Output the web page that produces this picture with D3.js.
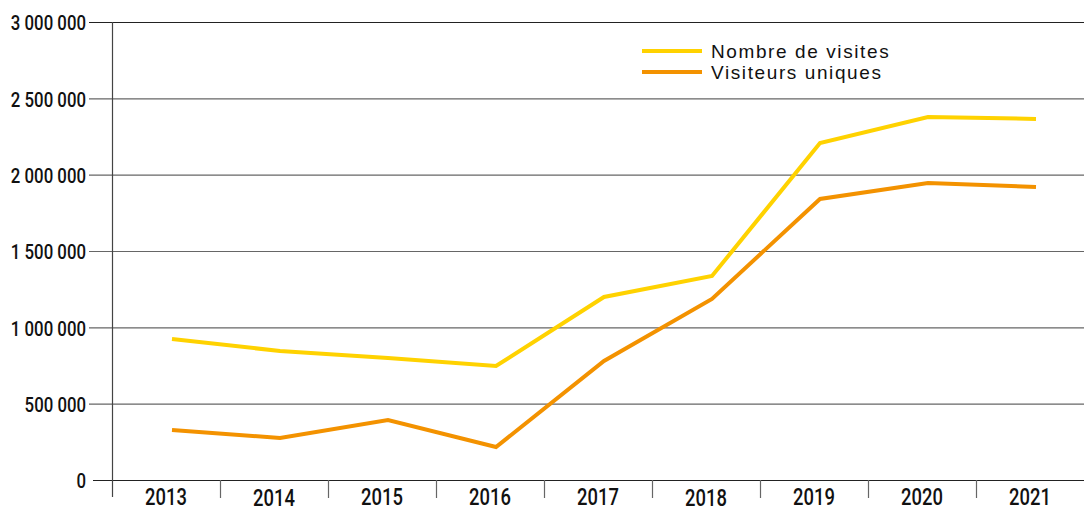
<!DOCTYPE html>
<html><head><meta charset="utf-8">
<script src="https://cdn.jsdelivr.net/npm/d3@7"></script>
<style>
body{margin:0;background:#fff;}
svg{display:block;}
.cond{font-family:Roboto,"DejaVu Sans Condensed",sans-serif;}
</style></head>
<body>
<svg id="chart" width="1084" height="511"></svg>
<script>
const years = ["2013","2014","2015","2016","2017","2018","2019","2020","2021"];
const visites = [923000, 845000, 799000, 747000, 1199000, 1336000, 2207000, 2378000, 2365000];
const uniques = [328000, 275000, 393000, 216000, 780000, 1186000, 1841000, 1945000, 1919000];
const yTicks = [0, 500000, 1000000, 1500000, 2000000, 2500000, 3000000];
const seriesNames = ["Nombre de visites", "Visiteurs uniques"];
const colors = ["#FFD200", "#F39200"];

const svg = d3.select("#chart");
const mLeft = 112, mRight = 1084, mTop = 22, mBottom = 480;

const y = d3.scaleLinear().domain([0, 3000000]).range([mBottom, mTop]);
const xb = d3.scaleBand().domain(years).range([mLeft, mRight]);
const xp = d3.scalePoint().domain(years).range([mLeft + xb.bandwidth()/2 + 6, mRight - xb.bandwidth()/2 + 6]);

const fmt = v => d3.format(",")(v).replace(/,/g, " ");
const SX = 0.8;

const g = svg.append("g");
yTicks.forEach(t => {
  g.append("line").attr("x1", t === 0 ? 93 : 89).attr("x2", mRight)
    .attr("y1", y(t) + 0.5).attr("y2", y(t) + 0.5)
    .attr("stroke", t === 0 || t === 3000000 ? "#222" : "#666").attr("stroke-width", 1.2);
  g.append("text").attr("class", "cond")
    .attr("transform", `translate(86,${y(t) + 1}) scale(${SX},1)`)
    .attr("dy", "0.35em").attr("text-anchor", "end")
    .attr("font-size", 21).attr("font-weight", 500).attr("fill", "#111").text(fmt(t));
});
g.append("line").attr("x1", mLeft + 0.5).attr("x2", mLeft + 0.5)
  .attr("y1", mTop).attr("y2", 497).attr("stroke", "#444").attr("stroke-width", 1.2);

years.forEach((yr, i) => {
  if (i > 0) {
    g.append("line").attr("x1", xb(yr) + 0.5).attr("x2", xb(yr) + 0.5)
      .attr("y1", mBottom).attr("y2", 498).attr("stroke", "#666").attr("stroke-width", 1.2);
  }
  const ty = (yr === "2014" || yr === "2018") ? 506 : 505;
  g.append("text").attr("class", "cond")
    .attr("transform", `translate(${xb(yr) + xb.bandwidth()/2},${ty}) scale(${SX},1)`)
    .attr("text-anchor", "middle").attr("font-size", 23).attr("font-weight", 500).attr("fill", "#111").text(yr);
});

const line = d3.line().x((d, i) => xp(years[i])).y(d => y(d));
[visites, uniques].forEach((s, k) => {
  svg.append("path").datum(s).attr("d", line).attr("fill", "none")
    .attr("stroke", colors[k]).attr("stroke-width", 4).attr("stroke-linejoin", "miter");
});

seriesNames.forEach((n, k) => {
  const ly = 51 + k * 21;
  svg.append("line").attr("x1", 642).attr("x2", 702).attr("y1", ly).attr("y2", ly)
    .attr("stroke", colors[k]).attr("stroke-width", 4);
  svg.append("text").attr("x", 711).attr("y", ly).attr("dy", "0.36em")
    .attr("font-family", "Liberation Sans, Arial, sans-serif").attr("font-size", 19)
    .attr("letter-spacing", 1.6)
    .attr("fill", "#111").text(n);
});
</script>
</body></html>
